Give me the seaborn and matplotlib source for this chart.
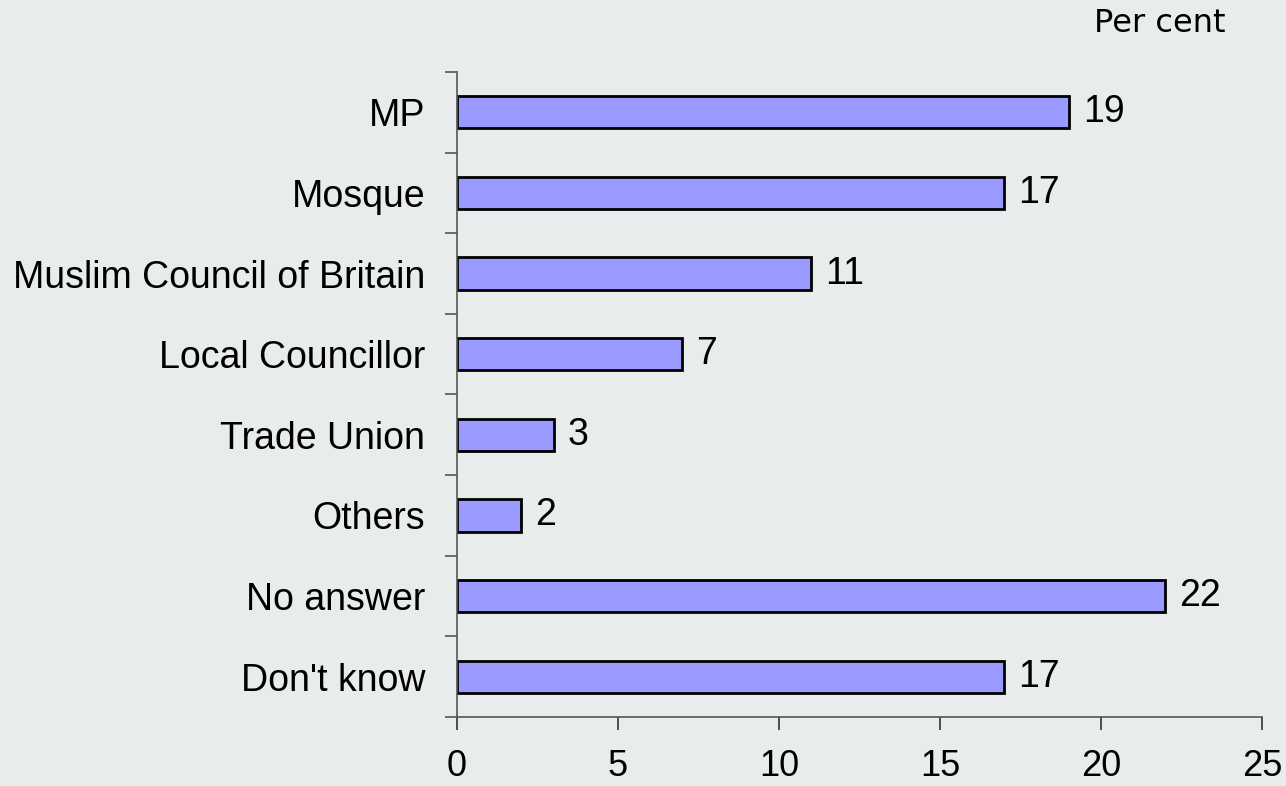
import matplotlib
matplotlib.use("Agg")
import matplotlib.pyplot as plt
import seaborn as sns
import pandas as pd
import numpy as np

# Datos
categorias = ["MP", "Mosque", "Muslim Council of Britain", "Local Councillor",
              "Trade Union", "Others", "No answer", "Don't know"]
valores = [19, 17, 11, 7, 3, 2, 22, 17]

df = pd.DataFrame({"categoria": categorias, "valor": valores})

bg = "#E9ECEC"
sns.set_theme(style="white")
plt.rcParams["font.family"] = ["Liberation Sans", "DejaVu Sans"]
plt.rcParams["text.color"] = "black"
plt.rcParams["xtick.labelcolor"] = "black"
plt.rcParams["ytick.labelcolor"] = "black"

fs = 27

fig = plt.figure(figsize=(12.86, 7.86), dpi=100, facecolor=bg)
ax = fig.add_axes([0.3554, 0.0878, 0.9813 - 0.3554, 0.9084 - 0.0878])
ax.set_facecolor(bg)

sns.barplot(data=df, x="valor", y="categoria", orient="h", color="#9999FF",
            saturation=1, width=0.4, edgecolor="black", linewidth=2, ax=ax)

# Etiquetas de valor
for i, v in enumerate(valores):
    ax.annotate(str(v), (v, i), xytext=(10, 0), textcoords="offset points",
                va="center", ha="left", fontsize=fs, color="black")

ax.set_xlim(0, 25)
ax.set_ylim(len(categorias) - 0.5, -0.5)
ax.set_xticks([0, 5, 10, 15, 20, 25])
ax.set_xlabel("")
ax.set_ylabel("")

# Ticks en los limites de las categorias, etiquetas en el centro
ax.set_yticks(np.arange(len(categorias) + 1) - 0.5)
ax.set_yticklabels([])
ax.set_yticks(np.arange(len(categorias)), minor=True)
ax.set_yticklabels(categorias, minor=True)
ax.tick_params(axis="y", which="major", direction="out", length=9, width=1.2,
               color="#555555", left=True)
ax.tick_params(axis="y", which="minor", length=0, pad=23, labelsize=fs)
ax.tick_params(axis="x", direction="out", length=9, width=1.2, color="#333333",
               bottom=True, pad=14, labelsize=26)

for s in ["top", "right"]:
    ax.spines[s].set_visible(False)
for s in ["left", "bottom"]:
    ax.spines[s].set_color("#555555")
    ax.spines[s].set_linewidth(1.2)

fig.text(0.902, 0.97, "Per cent", family="DejaVu Sans", fontsize=23,
         ha="center", va="center")

fig.savefig("out.png", dpi=100, facecolor=bg)
